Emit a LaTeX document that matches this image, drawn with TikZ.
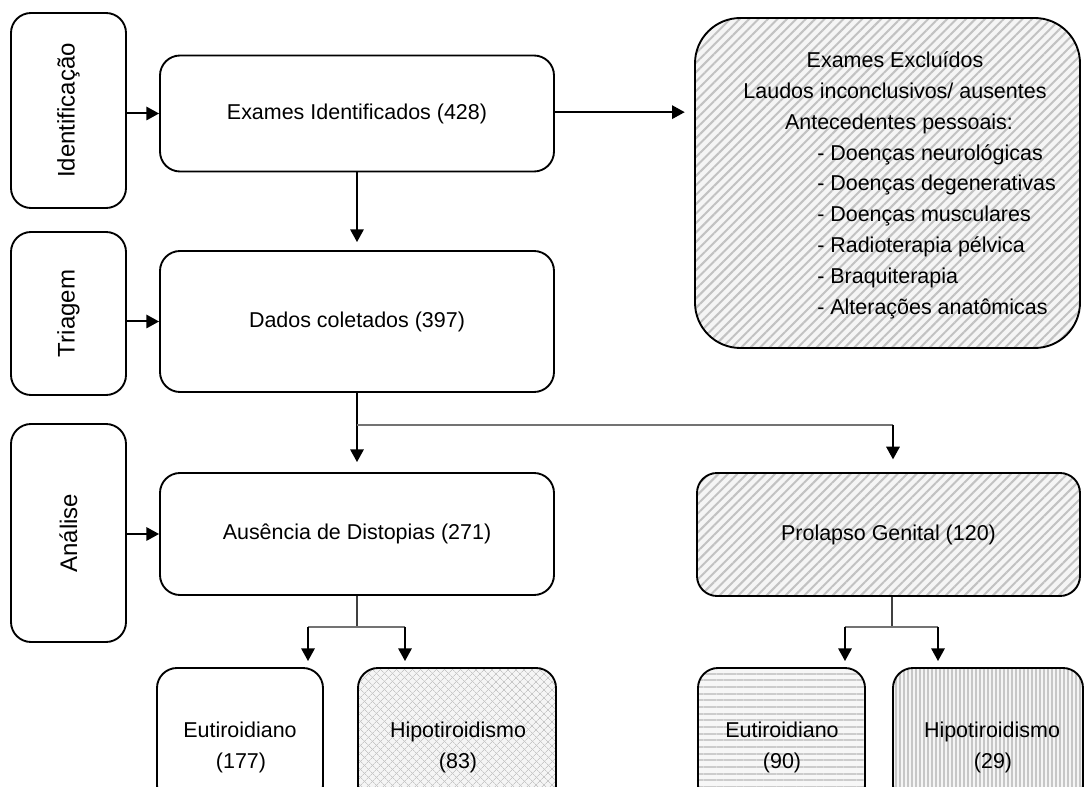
\documentclass[tikz,border=0pt]{standalone}
\usepackage{fontspec}
\setmainfont{Liberation Sans}
\usetikzlibrary{patterns.meta,arrows.meta,calc}
\begin{document}
\begin{tikzpicture}[x=0.75pt,y=-0.75pt,
  box/.style={draw=black,line width=1.4pt,rounded corners=15pt,inner sep=0pt,font=\fontsize{16.1}{23.1}\selectfont},
  txt/.style={font=\fontsize{16.1}{23.1}\selectfont,inner sep=0pt},
  side/.style={font=\fontsize{18}{21}\selectfont,inner sep=0pt,rotate=90},
  arr/.style={line width=1.5pt,-{Triangle[length=9.5pt,width=10pt]}},
  stem/.style={line width=1.1pt,draw=black!75},
  bran/.style={line width=1.2pt,draw=black!55},
  diag/.style={preaction={fill=black!4},preaction={pattern={Lines[angle=45,distance=5pt,line width=1.5pt]},pattern color=black!24}},
  cross/.style={preaction={fill=black!4},preaction={pattern={Lines[angle=45,distance=4pt,line width=0.6pt]},pattern color=black!22},preaction={pattern={Lines[angle=-45,distance=4pt,line width=0.6pt]},pattern color=black!22}},
  hlines/.style={preaction={fill=black!3},preaction={pattern={Lines[angle=0,distance=5pt,line width=1.4pt]},pattern color=black!20}},
  vlines/.style={preaction={fill=black!4},preaction={pattern={Lines[angle=90,distance=3pt,line width=0.8pt]},pattern color=black!22}}
]
\clip (0,0) rectangle (1086,787);
\fill[white] (0,0) rectangle (1086,787);

% side boxes
\node[box,minimum width=86.25pt,minimum height=146.25pt] (idl) at (68.5,110.5) {};
\node[side] (idlt) at (idl) {Identificação};
\node[box,minimum width=86.25pt,minimum height=122.25pt] (tri) at (68.5,313.5) {};
\node[side] (trit) at (tri) {Triagem};
\node[box,minimum width=86.25pt,minimum height=163.5pt] (ana) at (68.5,533) {};
\node[side] (anat) at (ana) {Análise};

% main boxes
\node[box,minimum width=295.5pt,minimum height=87pt] (exid) at (357,113.5) {Exames Identificados (428)};
\node[box,minimum width=295.5pt,minimum height=105.75pt] (dados) at (357,321.5) {Dados coletados (397)};
\node[box,minimum width=295.5pt,minimum height=91.5pt] (aus) at (357,534) {Ausência de Distopias (271)};
\node[box,diag,rounded corners=34pt,minimum width=288.75pt,minimum height=247.5pt] (excl) at (887.5,183) {};
\node[box,diag,minimum width=287.25pt,minimum height=92.25pt] (prol) at (888.5,534.5) {Prolapso Genital (120)};

% exclusion text
\node[txt,anchor=base] (x1) at (895,67.7) {Exames Excluídos};
\node[txt,anchor=base] (x2) at (895,98.5) {Laudos inconclusivos/ ausentes};
\node[txt,anchor=base] (x3) at (899,129.3) {Antecedentes pessoais:};
\node[txt,anchor=base west] (x4) at (817,160.1) {- Doenças neurológicas};
\node[txt,anchor=base west] (x5) at (817,190.9) {- Doenças degenerativas};
\node[txt,anchor=base west] (x6) at (817,221.7) {- Doenças musculares};
\node[txt,anchor=base west] (x7) at (817,252.5) {- Radioterapia pélvica};
\node[txt,anchor=base west] (x8) at (817,283.3) {- Braquiterapia};
\node[txt,anchor=base west] (x9) at (817,314.1) {- Alterações anatômicas};

% bottom boxes
\node[box,minimum width=124.5pt,minimum height=102.75pt] (eut1) at (240,736.5) {};
\node[box,cross,minimum width=148.5pt,minimum height=102.75pt] (hipo1) at (457,736.5) {};
\node[box,hlines,minimum width=125.25pt,minimum height=102.75pt] (eut2) at (781.5,736.5) {};
\node[box,vlines,minimum width=142.5pt,minimum height=102.75pt] (hipo2) at (988,736.5) {};
\node[txt,anchor=base] (eut1a) at (240,737.7) {Eutiroidiano};
\node[txt,anchor=base] (eut1b) at (241,768.5) {(177)};
\node[txt,anchor=base] (hipo1a) at (458,737.7) {Hipotiroidismo};
\node[txt,anchor=base] (hipo1b) at (458,768.5) {(83)};
\node[txt,anchor=base] (eut2a) at (782,737.7) {Eutiroidiano};
\node[txt,anchor=base] (eut2b) at (782,768.5) {(90)};
\node[txt,anchor=base] (hipo2a) at (992,737.7) {Hipotiroidismo};
\node[txt,anchor=base] (hipo2b) at (993,768.5) {(29)};

% connectors
\draw[arr] (idl.east |- exid.west) -- (exid.west);
\draw[arr] (tri.east |- dados.west) -- (dados.west);
\draw[arr] (ana.east |- aus.west) -- (aus.west);
\draw[arr,shorten >=7pt] ([yshift=1pt]exid.east) -- ([yshift=1pt]exid.east -| excl.west);
\draw[arr,shorten >=6pt] (exid.south) -- (dados.north);
\draw[arr,shorten >=7.5pt] (dados.south) -- (aus.north);
\coordinate (b1) at (357,425);
\coordinate (b2) at (893,425);
\draw[bran] (b1) -- (b2);
\draw[arr,shorten >=9.5pt] (b2) -- (b2 |- prol.north);

\coordinate (c1) at (357,627);
\coordinate (c2) at (308,627);
\coordinate (c3) at (405,627);
\draw[stem] (aus.south) -- (c1);
\draw[bran] (c2) -- (c3);
\draw[arr,shorten >=4.5pt] (c2) -- (c2 |- eut1.north);
\draw[arr,shorten >=4.5pt] (c3) -- (c3 |- hipo1.north);

\coordinate (d1) at (892,627);
\coordinate (d2) at (845,627);
\coordinate (d3) at (938,627);
\draw[stem] (prol.south -| d1) -- (d1);
\draw[bran] (d2) -- (d3);
\draw[arr,shorten >=4.5pt] (d2) -- (d2 |- eut2.north);
\draw[arr,shorten >=4.5pt] (d3) -- (d3 |- hipo2.north);
\end{tikzpicture}
\end{document}
